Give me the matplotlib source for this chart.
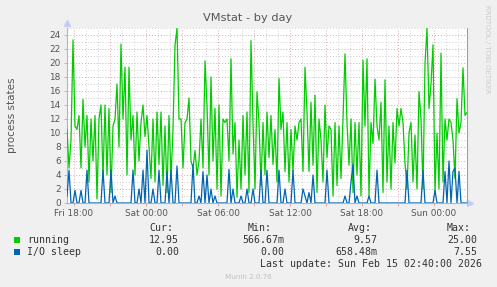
import numpy as np
import pandas as pd
import matplotlib
matplotlib.use('Agg')
import matplotlib.pyplot as plt
import matplotlib.dates as mdates
from matplotlib.patches import Rectangle
from matplotlib.ticker import MultipleLocator, FuncFormatter

W, H = 497, 287

# 10 minute samples starting Fri 13 Feb 17:25
start = '2026-02-13 17:25'

running = [
    10.5, 5, 9, 23.3, 11, 10.5, 12.5, 5, 14.8, 8,
    12.5, 3, 12, 6, 12.5, 0.57, 12, 14, 3.5, 14,
    4, 13.5, 1.5, 11, 12, 17, 8, 22.7, 12, 19.4,
    4, 19.4, 9, 12.5, 4, 13, 6, 11.5, 14, 9.5,
    12.5, 8, 3.5, 12, 3, 13, 5.5, 13, 2.5, 11,
    1.5, 12.5, 3.5, 10.5, 22.5, 25, 12, 12, 5, 11.5,
    12, 15, 6, 5, 7.5, 4, 6, 12, 5, 20.3,
    14, 4, 18, 6, 13.5, 2, 14, 1, 12, 11.5,
    12, 6, 20.6, 7, 11.5, 0.8, 9, 2, 12.5, 4,
    13, 1.5, 23.2, 11.5, 2, 15.9, 11.5, 2.5, 11.5, 4,
    13, 6.5, 12.5, 5.5, 10.5, 3, 17.8, 10.5, 13, 4.5,
    11.5, 3, 10.5, 4.5, 11, 9, 11.5, 12, 4.5, 19.4,
    13, 4.5, 14.4, 5.4, 15.4, 1.5, 12, 9, 3, 14,
    6.5, 11, 10.5, 1, 11.5, 2.5, 11, 3.5, 12, 21.3,
    11.5, 5.4, 12, 1.5, 11.5, 4, 11.5, 1, 20.4, 11,
    20.6, 1, 11.5, 8.5, 17.7, 11, 9, 14.4, 1.5, 17.6,
    3, 11, 2, 11.5, 5.7, 13.5, 11, 13.5, 11.5, 5.7,
    2, 10, 11.5, 3, 9.7, 2, 15.9, 12, 2, 19.9,
    25, 13.5, 17, 22.6, 1.5, 10, 2, 21.4, 3, 12,
    9, 12, 11.5, 9, 3.5, 14.9, 10, 11.5, 19.3, 12.5,
    12.95]

io_sleep = [
    1, 4.7, 0, 0, 1.8, 0, 0, 1.8, 0, 0,
    4.7, 0, 0, 0, 0, 0, 0, 0, 4.7, 0,
    0, 0, 4.7, 0, 1, 0, 0, 0, 0, 0,
    0, 0, 0, 4.7, 0, 0, 2, 0, 4.7, 0,
    7.55, 0, 0, 2, 0, 0, 4.7, 0, 0, 0,
    4.5, 0, 4.7, 0, 0, 5.3, 0, 0, 0, 0,
    0, 0, 0, 5.5, 0, 0, 1, 0, 4.5, 0,
    4, 0, 2, 0, 1, 0, 0, 0, 0, 0,
    0, 4.8, 0, 2, 0, 0, 0, 1, 0, 0,
    2, 0, 0, 2, 0, 0, 0, 4.7, 0, 0,
    4.7, 0, 0, 0, 0, 0, 4.7, 0, 0, 2,
    0, 0, 0, 4.7, 0, 0, 0, 0, 2, 1,
    0, 1.5, 0, 4, 0, 0, 0, 0, 0, 0,
    4.7, 0, 0, 0, 0, 0, 0, 0, 0, 1,
    0, 0, 3, 5.5, 0, 1, 0, 0, 0, 0,
    0, 1, 0, 0, 0, 4.7, 0, 0, 0, 0,
    0, 0, 0, 0, 0, 0, 0, 0, 0, 0,
    4.7, 0, 0, 0, 0, 0, 0, 0, 4.7, 0,
    0, 0, 0, 0, 1.8, 0, 0, 0, 0, 4.5,
    0, 6, 0, 4.5, 5, 0, 4.5, 0, 0, 0,
    0]

labels = ['running', 'I/O sleep']
colors = ['#00cc00', '#0066b3']
cur = ['12.95', '0.00']
mins = ['566.67m', '0.00']
avgs = ['9.57', '658.48m']
maxs = ['25.00', '7.55']

times = pd.date_range(start, periods=len(running), freq='10min')

fig = plt.figure(figsize=(W / 100, H / 100), dpi=100, facecolor='#f0f0f0')
ax = fig.add_axes([67 / W, (H - 203) / H, 400 / W, 175 / H])
ax.set_facecolor('white')

ax.plot(times, running, color=colors[0], lw=0.9, zorder=3)
ax.plot(times, io_sleep, color=colors[1], lw=0.9, zorder=4)

ax.set_xlim(times[0], times[-1])
ax.set_ylim(0, 25)

ax.xaxis.set_major_locator(mdates.HourLocator(byhour=range(0, 24, 3)))
ax.xaxis.set_minor_locator(mdates.HourLocator())


def fmt(v, pos):
    d = mdates.num2date(v)
    return d.strftime('%a %H:%M') if d.hour % 6 == 0 else ''


ax.xaxis.set_major_formatter(FuncFormatter(fmt))
ax.yaxis.set_major_locator(MultipleLocator(2))
ax.yaxis.set_minor_locator(MultipleLocator(1))

ax.set_axisbelow(True)
ax.grid(which='major', color='#dca8a8', ls=(0, (1, 2)), lw=0.7)
ax.grid(which='minor', color='#cfcfcf', ls=(0, (1, 2)), lw=0.7)

ax.tick_params(which='major', length=2, width=0.7, color='#dca8a8',
               labelsize=6.4, labelcolor='#555555', pad=2.5)
ax.tick_params(which='minor', length=0)

ax.spines['top'].set_visible(False)
ax.spines['right'].set_color('#a0a0a0')
ax.spines['right'].set_linewidth(0.8)
for s in ['left', 'bottom']:
    ax.spines[s].set_color('#a8b2e2')
    ax.spines[s].set_linewidth(0.8)

# axis arrows
ax.plot([1.008], [0], marker='>', ms=4, color='#c4ccf4', transform=ax.transAxes, clip_on=False)
ax.plot([0], [1.03], marker='^', ms=4, color='#c4ccf4', transform=ax.transAxes, clip_on=False)

fig.text(248 / W, 1 - 18 / H, 'VMstat - by day', ha='center', va='center', fontsize=8.2, color='#555555')
fig.text(12 / W, 1 - 115 / H, 'process states', rotation=90, ha='center', va='center', fontsize=7.5,
         color='#555555')
fig.text(487 / W, 1 - 5 / H, 'RRDTOOL / TOBI OETIKER', rotation=270, ha='center', va='top', fontsize=5,
         color='#cccccc')

mono = dict(family='DejaVu Sans Mono', fontsize=7.1, color='#333333', va='center')
for x, t in zip([149, 248, 348, 447], ['Cur:', 'Min:', 'Avg:', 'Max:']):
    fig.text(x / W, 1 - 228 / H, t, ha='left', **mono)

rows_y = [240, 252]
for i in range(len(labels)):
    y = rows_y[i]
    fig.patches.append(Rectangle((14 / W, 1 - (y + 3) / H), 6 / W, 6 / H, transform=fig.transFigure,
                                 facecolor=colors[i], edgecolor='none'))
    fig.text(27 / W, 1 - y / H, labels[i], ha='left', **mono)
    for x, v in zip([179, 284, 377, 477], [cur[i], mins[i], avgs[i], maxs[i]]):
        fig.text(x / W, 1 - y / H, v, ha='right', **mono)

fig.text(482 / W, 1 - 264 / H, 'Last update: Sun Feb 15 02:40:00 2026', ha='right', **mono)
fig.text(248 / W, 1 - 277 / H, 'Munin 2.0.76', ha='center', va='center', fontsize=5.1, color='#c0c0c0')

fig.savefig('out.png', dpi=100, facecolor=fig.get_facecolor())
